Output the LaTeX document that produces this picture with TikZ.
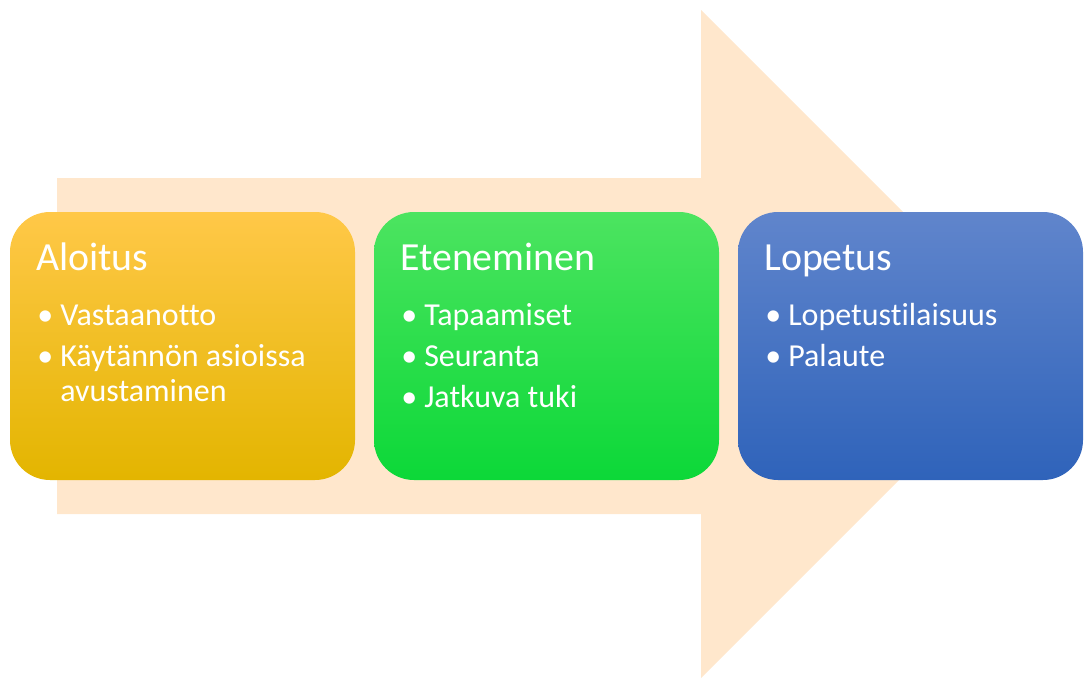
\documentclass[tikz,border=0pt]{standalone}
\usepackage{fontspec}
\setmainfont{Carlito}[Ligatures={NoCommon}]
\usepackage{tikz}
\usetikzlibrary{
  positioning
}

\begin{document}
\begin{tikzpicture}[x=0.75pt,y=-0.75pt,node distance=14.25pt,
    phase/.style={rounded corners=30pt,minimum width=258.75pt,minimum height=201pt,inner sep=0pt,outer sep=0pt,draw=none},
    phasetitle/.style={anchor=base west,inner sep=0pt,text=white,font=\fontsize{29.9}{36}\selectfont},
    item/.style={anchor=base west,inner sep=0pt,text=white,font=\fontsize{24}{26.25}\selectfont},
    dot/.style={anchor=base west,inner sep=0pt,text=white,font=\fontsize{24}{26.25}\selectfont}]
    \useasboundingbox (0,0) rectangle (1084,678);
    \definecolor{arrowfill}{RGB}{255,231,204}
    % big arrow behind
    \fill[arrowfill] (57,178) -- (701,178) -- (701,10) -- (1035,344) -- (701,678) -- (701,514) -- (57,514) -- cycle;

    \node[phase,top color={rgb,255:red,255;green,200;blue,72},middle color={rgb,255:red,255;green,198;blue,10},bottom color={rgb,255:red,227;green,181;blue,0}] (start) at (182.5,346) {};
    \node[phase,right=of start,top color={rgb,255:red,76;green,228;blue,96},middle color={rgb,255:red,20;green,226;blue,60},bottom color={rgb,255:red,12;green,216;blue,56}] (progress) {};
    \node[phase,right=of progress,top color={rgb,255:red,96;green,133;blue,204},middle color={rgb,255:red,64;green,110;blue,200},bottom color={rgb,255:red,47;green,99;blue,186}] (finish) {};

    \node[phasetitle] (t1) at ([shift={(26,58)}]start.north west) {Aloitus};
    \node[phasetitle] (t2) at ([shift={(26,58)}]progress.north west) {Eteneminen};
    \node[phasetitle] (t3) at ([shift={(26,58)}]finish.north west) {Lopetus};

    % bullets
    \foreach \b/\y/\n/\txt in {start/113/a1/Vastaanotto,start/154/a2/Käytännön asioissa,
        progress/113/b1/Tapaamiset,progress/154/b2/Seuranta,progress/195/b3/Jatkuva tuki,
        finish/113/c1/Lopetustilaisuus,finish/154/c2/Palaute}{
        \node[dot] (\n dot) at ([shift={(27,\y)}]\b.north west) {•};
        \node[item] (\n) at ([shift={(50,\y)}]\b.north west) {\txt};
    }
    \node[item] (a2cont) at ([shift={(50,189)}]start.north west) {avustaminen};
\end{tikzpicture}
\end{document}
